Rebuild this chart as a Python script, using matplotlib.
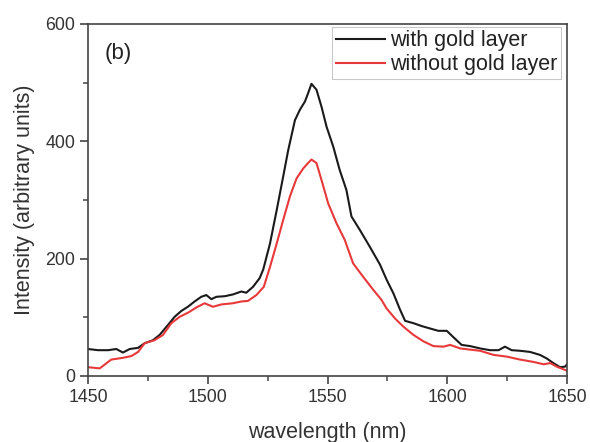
import matplotlib
matplotlib.use("Agg")
import matplotlib.pyplot as plt
from matplotlib.ticker import MultipleLocator

plt.rcParams["font.family"] = ["Liberation Sans", "DejaVu Sans"]

# spectrum with gold layer
wl_gold = [1450, 1454.2, 1458.4, 1461.8, 1464.6, 1467.4, 1470.9, 1473.7, 1477.1, 1479.9,
           1483.4, 1486.2, 1489, 1491.7, 1494.5, 1497.3, 1499.4, 1501.5, 1503.6, 1507.1,
           1510.5, 1514, 1516.1, 1518.9, 1521.7, 1523.2, 1526, 1528.8, 1531.5, 1533.6,
           1536.4, 1538.5, 1540.6, 1541.9, 1543.3, 1545.4, 1547.5, 1549.6, 1552.4, 1555.1,
           1557.9, 1560, 1563.5, 1567.7, 1571.9, 1574.7, 1577.5, 1580.3, 1582.4, 1585.9,
           1589.4, 1592.8, 1596.3, 1599.8, 1602.6, 1606, 1609.5, 1613.7, 1617.9, 1621.4,
           1624.1, 1626.9, 1630.4, 1634.6, 1638.7, 1641.5, 1644.3, 1647.1, 1649.2, 1650]
int_gold = [46, 44, 44, 46, 40, 46, 48, 56, 61, 70,
            87, 101, 111, 118, 127, 135, 138, 131, 135, 136,
            139, 144, 142, 152, 167, 182, 226, 283, 340, 385,
            436, 454, 468, 482, 498, 488, 459, 425, 391, 351,
            317, 272, 249, 220, 190, 164, 141, 113, 94, 90,
            85, 81, 77, 77, 66, 53, 51, 47, 44, 44,
            50, 44, 43, 41, 36, 30, 22, 15, 16, 20]

# spectrum without gold layer
wl_bare = [1450, 1454.9, 1459.7, 1464.6, 1468.1, 1470.9, 1473.7, 1477.8, 1481.3, 1484.8,
           1488.3, 1491.8, 1495.3, 1498.7, 1502.2, 1505.7, 1510.5, 1514, 1516.8, 1520.3,
           1523.4, 1526, 1528.8, 1531.5, 1534.3, 1537.1, 1539.9, 1541.9, 1543.3, 1545.4,
           1547.5, 1550.3, 1553.8, 1557.2, 1560.7, 1564.9, 1569.1, 1572.5, 1574.7, 1578.2,
           1581.7, 1585.9, 1590.1, 1594.2, 1598.4, 1601.2, 1605.4, 1609.5, 1613.7, 1619.3,
           1624.9, 1630.4, 1636, 1640.2, 1643, 1645.7, 1650]
int_bare = [15, 13, 28, 31, 34, 41, 56, 61, 70, 90,
            101, 108, 117, 124, 118, 122, 124, 127, 128, 138,
            152, 186, 226, 266, 306, 337, 354, 363, 369, 363,
            334, 294, 260, 232, 192, 169, 147, 130, 115, 98,
            84, 70, 59, 51, 50, 53, 47, 45, 43, 36,
            33, 28, 24, 20, 22, 16, 9]

fig = plt.figure(figsize=(5.9, 4.42), dpi=100)
ax = fig.add_axes([88 / 590, 1 - 376 / 442, (567 - 88) / 590, (376 - 24) / 442])

ax.plot(wl_gold, int_gold, color="#1a1a1a", lw=1.5, label="with gold layer")
ax.plot(wl_bare, int_bare, color="#e8393a", lw=1.5, label="without gold layer")

ax.set_xlim(1450, 1650)
ax.set_ylim(0, 600)
ax.xaxis.set_major_locator(MultipleLocator(50))
ax.xaxis.set_minor_locator(MultipleLocator(25))
ax.yaxis.set_major_locator(MultipleLocator(200))
ax.yaxis.set_minor_locator(MultipleLocator(100))

spine_col = "#444444"
for sp in ax.spines.values():
    sp.set_color(spine_col)
    sp.set_linewidth(1.2)
ax.tick_params(which="major", direction="out", length=6, width=1.2,
               color=spine_col, labelsize=12.8, labelcolor="#333333", pad=3)
ax.tick_params(which="minor", direction="out", length=3.5, width=1.1, color=spine_col)

ax.set_xlabel("wavelength (nm)", fontsize=15.5, color="#333333", labelpad=12)
ax.set_ylabel("Intensity (arbitrary units)", fontsize=15.5, color="#333333", labelpad=8)

ax.text(0.035, 0.915, "(b)", transform=ax.transAxes, fontsize=16,
        color="#222222", va="center", ha="left")

leg = ax.legend(loc="upper right", bbox_to_anchor=(561 / 590, 1 - 27 / 442),
                bbox_transform=fig.transFigure, borderaxespad=0, fontsize=15.5,
                handlelength=2.3, handletextpad=0.25, borderpad=0.15,
                labelspacing=0.15, fancybox=False, frameon=True)
leg.get_frame().set_edgecolor("#bbbbbb")
leg.get_frame().set_linewidth(0.8)
for t in leg.get_texts():
    t.set_color("#222222")

fig.savefig("out.png", dpi=100)
